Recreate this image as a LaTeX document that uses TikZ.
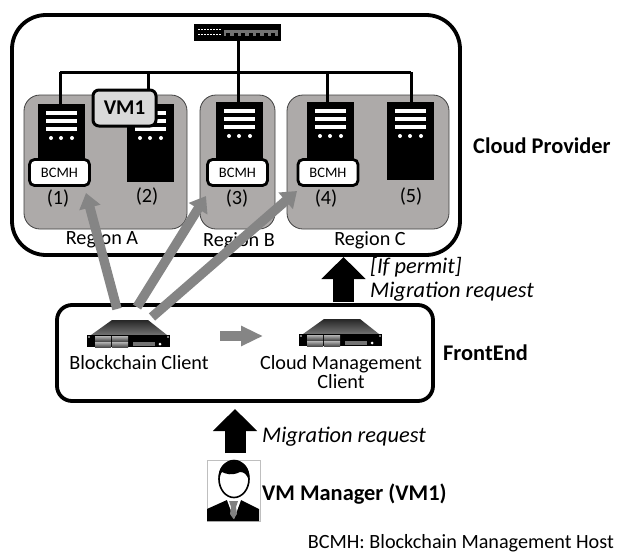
\documentclass[tikz,border=0pt]{standalone}
\usepackage{fontspec}
\setmainfont{Carlito}
\usetikzlibrary{arrows.meta}
\definecolor{regiongray}{HTML}{ADAAA9}
\definecolor{vmgray}{HTML}{D9D9D9}
\definecolor{flowgray}{HTML}{858585}
\tikzset{
    outerbox/.style={draw,line width=3.8pt,fill=white},
    regionbox/.style={draw=black!75,line width=0.8pt,fill=regiongray,rounded corners=16pt},
    netline/.style={line width=3pt},
    towerbox/.style={fill=black,inner sep=0pt,minimum width=47pt,minimum height=78pt,anchor=north west},
    hostbox/.style={draw,line width=2.8pt,fill=white,rounded corners=5pt,inner sep=0pt,minimum width=60pt,minimum height=26pt,font=\fontsize{14.5}{16}\selectfont},
    vmbox/.style={draw,line width=3pt,fill=vmgray,rounded corners=6pt,inner sep=0pt,minimum width=63pt,minimum height=36pt,font=\fontsize{21}{24}\selectfont\bfseries},
    plain/.style={font=\fontsize{20.2}{22}\selectfont,inner sep=0pt},
    title/.style={font=\fontsize{22.4}{24}\selectfont\bfseries,inner sep=0pt},
    request/.style={font=\fontsize{22.4}{24}\selectfont\itshape,inner sep=0pt,anchor=west},
    grayflow/.style={-{Triangle[width=21pt,length=15pt]},line width=9.5pt,draw=flowgray},
    upflow/.style={-{Triangle[width=43pt,length=22pt]},line width=21pt},
    towerserver/.pic={
        \node[towerbox] (-box) at (0,0) {};
        \foreach \y in {9,17,25} \fill[white] (8,\y-2) rectangle (39,\y+2);
        \foreach \x in {13,23,34} \fill[white] (\x,34) circle (2);
    },
    rackserver/.pic={
        \shade[top color=black!85,bottom color=black!55] (4,15) -- (25,0) -- (61,0) -- (80,15) -- cycle;
        \node[fill=black,inner sep=0pt,minimum width=83pt,minimum height=12pt,anchor=north west] (-box) at (0,15) {};
        \foreach \x in {8,25} \foreach \y in {16,22}
            \shade[top color=black!30,bottom color=black!70] (\x,\y) rectangle (\x+16,\y+5);
        \fill[black!55] (46,22) rectangle (68,26);
        \fill[white] (73,24) circle (1.5) (2,17) circle (0.8) (81,17) circle (0.8);
    },
}
\begin{document}
\begin{tikzpicture}[x=1pt,y=-1pt]
    \useasboundingbox (0,0) rectangle (618,554);
    \draw[outerbox,rounded corners=34pt] (12,15) rectangle (460,255);
    \draw[regionbox] (24,95) rectangle (187,229);
    \draw[regionbox] (200,95) rectangle (275,229);
    \draw[regionbox] (287,95) rectangle (449,229);
    % network
    \node[fill=black,inner sep=0pt,minimum width=87pt,minimum height=17pt,anchor=north west] (switch) at (194,24) {};
    \fill[black!55] (224,30) rectangle (278,36);
    \foreach \x in {226,233.5,...,272} \fill[black] (\x,33) rectangle (\x+4,36);
    \foreach \y in {29,34} \foreach \x in {198,201,...,219} \fill[white] (\x,\y) rectangle (\x+1.6,\y+1.4);
    \coordinate (bus1) at (60,72);
    \coordinate (bus2) at (148,72);
    \coordinate (bus3) at (238,72);
    \coordinate (bus4) at (327,72);
    \coordinate (bus5) at (411,72);
    \draw[netline] (bus1) -- (bus5);
    \draw[netline] (bus3 |- switch.south) -- (bus3);
    \pic (s1) at (38,104) {towerserver};
    \pic (s2) at (127,104) {towerserver};
    \pic (s3) at (216,102) {towerserver};
    \pic (s4) at (307,102) {towerserver};
    \pic (s5) at (387,102) {towerserver};
    \foreach \i in {1,...,5} \draw[netline] (bus\i) -- (bus\i |- s\i-box.north);
    \node[vmbox] (vm) at (124.5,108) {VM1};
    \node[hostbox] (h1) at (59.5,172.5) {BCMH};
    \node[hostbox] (h3) at (237.5,172.5) {BCMH};
    \node[hostbox] (h4) at (328,172.5) {BCMH};
    \node[plain] (n1) at (58,199) {(1)};
    \node[plain] (n2) at (147,197) {(2)};
    \node[plain] (n3) at (237,199) {(3)};
    \node[plain] (n4) at (326,199) {(4)};
    \node[plain] (n5) at (411,197) {(5)};
    \node[plain] (ra) at (102,239) {Region A};
    \node[plain] (rb) at (239,241) {Region B};
    \node[plain] (rc) at (370,240) {Region C};
    \node[title,anchor=west] (cloud) at (473,146) {Cloud Provider};
    % frontend
    \draw[outerbox,rounded corners=15pt] (57,305) rectangle (433,401);
    \pic (bc) at (87,320) {rackserver};
    \pic (cm) at (299,319) {rackserver};
    \node[plain] (bclabel) at (139,363) {Blockchain Client};
    \node[plain,align=center,font=\fontsize{20.2}{17}\selectfont] (cmlabel) at (341,372) {Cloud Management\\Client};
    \node[title,anchor=west] (front) at (443,353) {FrontEnd};
    % flows
    \coordinate (f1) at (117,309);
    \coordinate (f2) at (137,307);
    \coordinate (f3) at (152,317);
    \coordinate (t1) at (86,193);
    \coordinate (t2) at (206,196);
    \coordinate (t3) at (297,191);
    \foreach \i in {1,2,3} \draw[grayflow] (f\i) -- (t\i);
    \coordinate (g1) at (220,336);
    \coordinate (g2) at (263,336);
    \draw[-{Triangle[width=19pt,length=22pt]},line width=10pt,draw=flowgray] (g1) -- (g2);
    \coordinate (u1) at (343.5,302);
    \coordinate (u2) at (343.5,257);
    \coordinate (m1) at (235,453);
    \coordinate (m2) at (235,409);
    \draw[upflow] (u1) -- (u2);
    \draw[upflow] (m1) -- (m2);
    \node[request] (permit) at (370,267) {[If permit]};
    \node[request] (req1) at (370,292) {Migration request};
    \node[request] (req2) at (262,437) {Migration request};
    % manager
    \node[draw=black!25,line width=0.6pt,inner sep=0pt,minimum width=53pt,minimum height=61pt,anchor=north west] (frame) at (207,460) {};
    \fill (207,521) -- (207,509) -- (227,500) -- (241,500) -- (259,509) -- (259,521) -- cycle;
    \fill[white] (227,500) -- (241,500) -- (234,519) -- cycle;
    \fill[black!50] (229,501) -- (238,501) -- (236,507) -- (237,514) -- (233.5,519) -- (230,514) -- (231,507) -- cycle;
    \draw[line width=1.6pt,fill=white] (234,479) ellipse (15 and 18.5);
    \fill (219,481) .. controls (217,468) and (224,461) .. (234,461) .. controls (244,461) and (251,468) .. (249,481) .. controls (247,474) and (244,472) .. (240,472) .. controls (232,476) and (226,474) .. (222,472) .. controls (220,474) and (220,478) .. (219,481) -- cycle;
    \node[title,anchor=west] (manager) at (262,494) {VM Manager (VM1)};
    \node[plain,anchor=east] (legend) at (614,543) {BCMH: Blockchain Management Host};
\end{tikzpicture}
\end{document}
